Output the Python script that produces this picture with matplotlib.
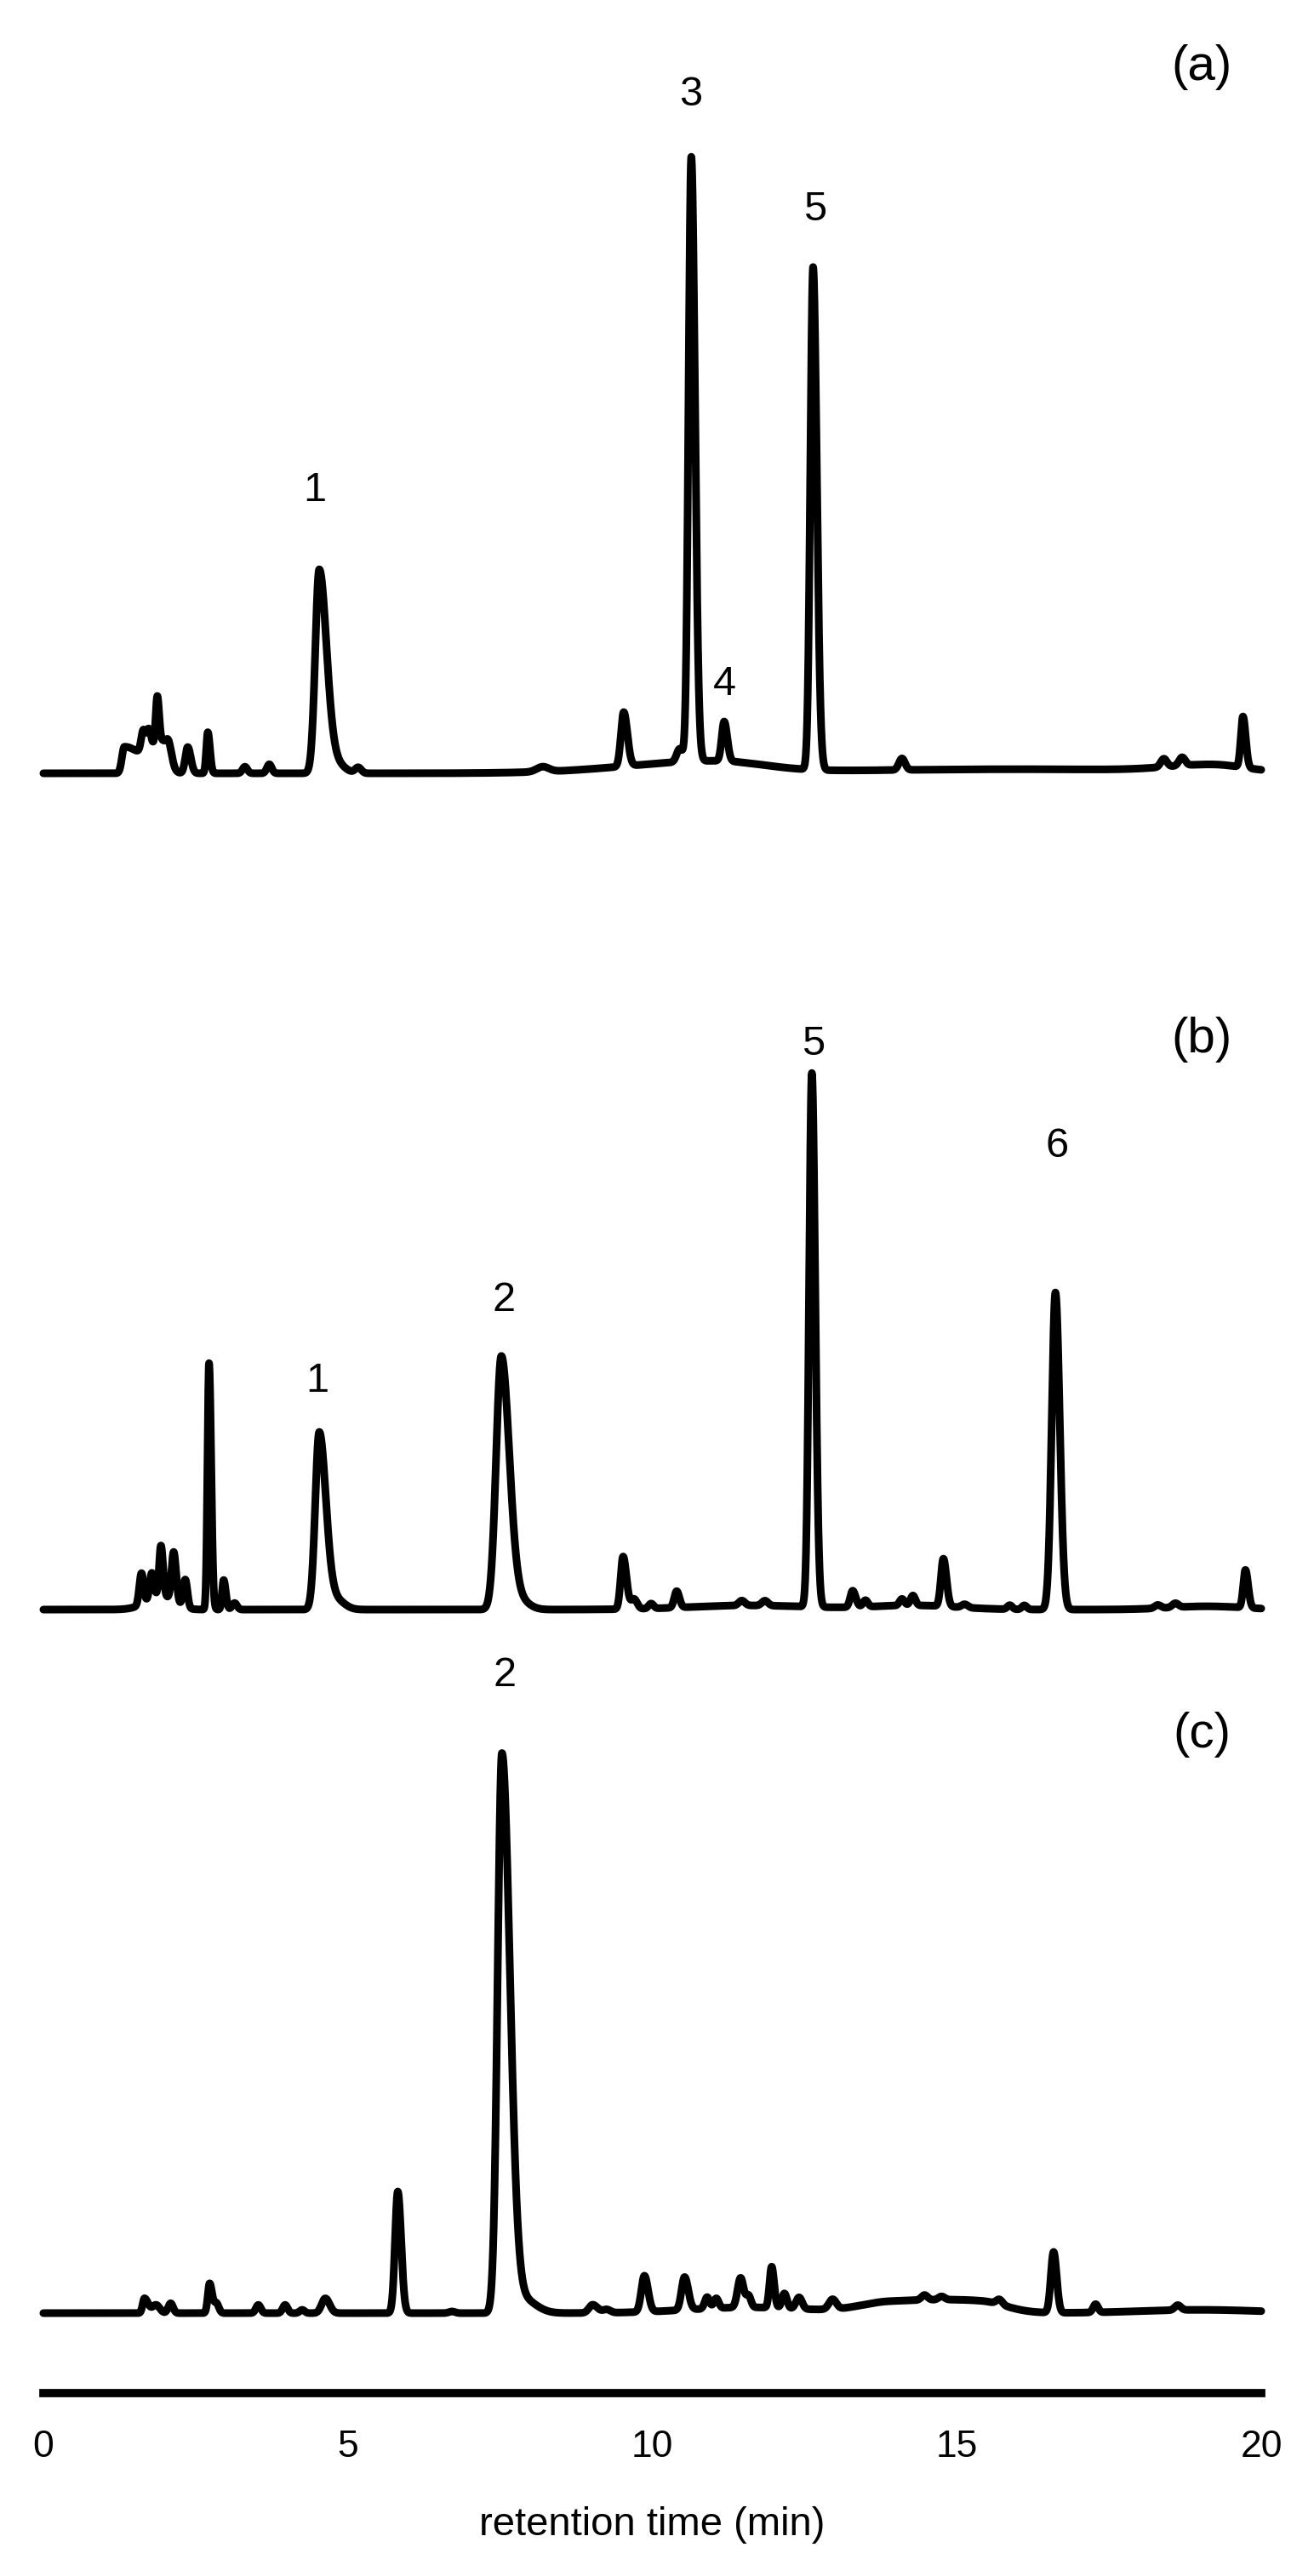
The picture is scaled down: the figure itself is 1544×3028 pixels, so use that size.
import numpy as np
import matplotlib.pyplot as plt

plt.rcParams["font.family"] = ["Liberation Sans", "DejaVu Sans"]

# Peak tables.
# time = retention time (min), height = signal (a.u.), wl / wr = left / right peak width (min)

# (a)
A_TIME = [1.33, 1.64, 1.73, 1.87, 1.95, 2.06, 2.37, 2.70, 3.31, 3.71, 4.53, 4.80, 5.17, 8.20,
          9.53, 10.45, 10.64, 11.18, 12.64, 14.10, 18.40, 18.70, 19.70,
          11.0, 16.0, 19.2]
A_HEIGHT = [16, 13, 12, 28, 19, 9, 16, 25, 4, 5.5, 124, 6, 3.5, 3,
            33, 8, 368, 24, 306, 7, 5, 5, 31,
            7, 2.5, 4]
A_WL = [0.04, 0.035, 0.035, 0.025, 0.2, 0.04, 0.04, 0.025, 0.04, 0.04, 0.065, 0.10, 0.05, 0.1,
        0.045, 0.05, 0.045, 0.04, 0.045, 0.05, 0.05, 0.05, 0.035,
        1.4, 3.0, 0.7]
A_WR = [0.25, 0.035, 0.035, 0.03, 0.1, 0.05, 0.05, 0.035, 0.04, 0.04, 0.12, 0.14, 0.05, 0.1,
        0.06, 0.05, 0.06, 0.05, 0.06, 0.05, 0.05, 0.05, 0.045,
        0.8, 3.0, 0.5]

# (b)
B_TIME = [1.61, 1.78, 1.93, 1.95, 2.14, 2.33, 2.72, 2.96, 3.14, 4.53, 4.80, 7.52, 7.80,
          9.52, 9.70, 9.98, 10.40, 11.47, 11.85, 12.62, 13.29, 13.50, 14.10, 14.28,
          14.78, 15.13, 15.87, 16.11, 16.62, 18.30, 18.59, 19.74,
          11.6, 14.3, 19.1]
B_HEIGHT = [19, 16, 31, 8, 30, 17, 150, 18, 4, 108, 6, 154, 6,
            32, 6, 3, 10, 3, 3, 325, 10, 4, 4, 6,
            29, 2, 2.5, 2.5, 193, 2, 2.5, 23,
            2.5, 2.5, 2]
B_WL = [0.035, 0.035, 0.03, 0.25, 0.035, 0.035, 0.025, 0.025, 0.04, 0.065, 0.10, 0.085, 0.12,
        0.04, 0.05, 0.04, 0.04, 0.05, 0.05, 0.045, 0.04, 0.04, 0.04, 0.04,
        0.04, 0.05, 0.04, 0.04, 0.06, 0.05, 0.05, 0.035,
        1.0, 0.7, 0.6]
B_WR = [0.035, 0.035, 0.035, 0.2, 0.04, 0.035, 0.035, 0.035, 0.04, 0.11, 0.14, 0.13, 0.16,
        0.055, 0.05, 0.04, 0.045, 0.05, 0.05, 0.055, 0.05, 0.04, 0.04, 0.04,
        0.05, 0.05, 0.04, 0.04, 0.07, 0.05, 0.05, 0.045,
        1.0, 0.7, 0.6]

# (c)
C_TIME = [1.66, 1.85, 2.09, 2.73, 2.84, 3.53, 3.97, 4.25, 4.63, 5.82, 6.71, 7.53, 7.85,
          9.02, 9.25, 9.87, 10.53, 10.90, 11.05, 11.45, 11.58, 11.96, 12.17, 12.41, 12.96,
          14.47, 14.75, 15.70, 16.59, 17.28, 18.63,
          11.6, 13.9, 15.4, 19.0]
C_HEIGHT = [9, 5, 6, 18, 6, 5, 5, 2, 9, 74, 1, 340, 9,
            5, 2, 22, 20, 7, 6, 18, 7, 25, 9, 7, 6,
            3, 2, 3, 37, 5, 3,
            3.5, 6, 6, 2]
C_WL = [0.03, 0.06, 0.04, 0.03, 0.04, 0.04, 0.04, 0.04, 0.06, 0.045, 0.05, 0.07, 0.15,
        0.06, 0.06, 0.05, 0.05, 0.04, 0.04, 0.05, 0.04, 0.035, 0.04, 0.05, 0.06,
        0.05, 0.05, 0.05, 0.045, 0.04, 0.05,
        1.0, 0.5, 0.8, 1.0]
C_WR = [0.06, 0.06, 0.04, 0.04, 0.04, 0.04, 0.04, 0.04, 0.07, 0.055, 0.05, 0.13, 0.22,
        0.08, 0.06, 0.06, 0.06, 0.04, 0.04, 0.05, 0.04, 0.04, 0.04, 0.05, 0.06,
        0.05, 0.05, 0.05, 0.05, 0.04, 0.05,
        1.0, 0.9, 0.4, 1.0]

# peak numbers (text, time, label height) and panel tags
A_LABELS = [("1", 4.45, 172), ("3", 10.63, 413), ("4", 11.18, 54), ("5", 12.67, 343)]
B_LABELS = [("1", 4.50, 139), ("2", 7.56, 188), ("5", 12.64, 344), ("6", 16.65, 282)]
C_LABELS = [("2", 7.57, 388)]
PANEL_TAGS = ["(a)", "(b)", "(c)"]
TAG_HEIGHTS = [430, 347, 352]

# layout (pixels of the 1544 x 3028 figure)
W, H = 1544, 3028
X0, X1 = 51, 1482
PX_PER_UNIT = 1.931
BASELINES = [909, 1892, 2719]
AXIS_Y = 2813

t = np.linspace(0, 20, 8001)


def trace(times, heights, wl, wr):
    y = np.zeros_like(t)
    for c, h, sl, sr in zip(times, heights, wl, wr):
        s = np.where(t < c, sl, sr)
        y += h * np.exp(-0.5 * ((t - c) / s) ** 2)
    return y


def panel_axes(fig, base, lo, hi):
    bottom = base - lo * PX_PER_UNIT
    top = base - hi * PX_PER_UNIT
    return fig.add_axes([X0 / W, 1 - bottom / H, (X1 - X0) / W, (bottom - top) / H])


fig = plt.figure(figsize=(W / 100, H / 100), dpi=100)

panels = [
    (trace(A_TIME, A_HEIGHT, A_WL, A_WR), A_LABELS),
    (trace(B_TIME, B_HEIGHT, B_WL, B_WR), B_LABELS),
    (trace(C_TIME, C_HEIGHT, C_WL, C_WR), C_LABELS),
]

for i, (y, labels) in enumerate(panels):
    lo = -(AXIS_Y - BASELINES[i]) / PX_PER_UNIT if i == 2 else -50
    ax = panel_axes(fig, BASELINES[i], lo, 460)
    ax.set_xlim(0, 20)
    ax.set_ylim(lo, 460)
    ax.patch.set_visible(False)
    ax.plot(t, y, color="black", lw=6.5, solid_joinstyle="round",
            solid_capstyle="round", clip_on=False)

    for txt, tx, ty in labels:
        ax.text(tx, ty, txt, ha="center", va="center", fontsize=35)
    ax.text(19.02, TAG_HEIGHTS[i], PANEL_TAGS[i], ha="center", va="center", fontsize=42)

    for side in ["top", "left", "right"]:
        ax.spines[side].set_visible(False)
    ax.set_yticks([])
    if i == 2:
        ax.spines["bottom"].set_linewidth(7)
        ax.set_xticks([0, 5, 10, 15, 20])
        ax.tick_params(axis="x", length=0, pad=31, labelsize=32)
    else:
        ax.spines["bottom"].set_visible(False)
        ax.set_xticks([])

fig.text((X0 + X1) / 2 / W, 1 - 2968 / H, "retention time (min)",
         ha="center", va="center", fontsize=34)

fig.savefig("out.png", dpi=100)
